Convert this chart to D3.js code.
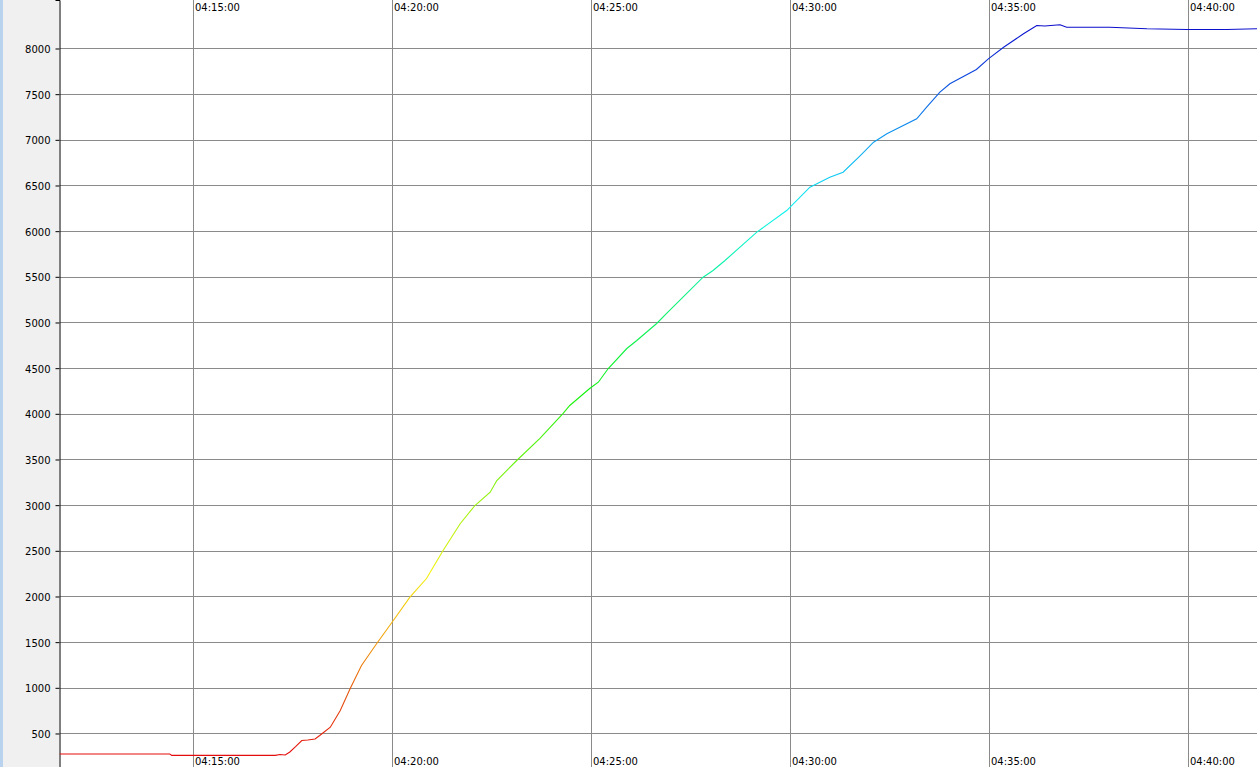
<!DOCTYPE html>
<html>
<head>
<meta charset="utf-8">
<script src="https://cdn.jsdelivr.net/npm/d3@7"></script>
<style>
  html, body { margin: 0; padding: 0; background: #ffffff; overflow: hidden; }
  svg { display: block; }
  text { font-family: "DejaVu Sans", Verdana, sans-serif; font-size: 10px; fill: #000; }
</style>
</head>
<body>
<svg id="chart" width="1257" height="767"></svg>
<script>
// ---- Data ----
const times = [
  "04:11:39","04:14:25","04:14:28","04:17:04","04:17:11","04:17:19","04:17:26","04:17:35",
  "04:17:44","04:17:53","04:18:04","04:18:11","04:18:27","04:18:42","04:18:57","04:19:14",
  "04:19:37","04:20:02","04:20:27","04:20:52","04:21:17","04:21:43","04:22:05","04:22:28",
  "04:22:38","04:23:08","04:23:43","04:24:18","04:24:28","04:24:58","04:25:11","04:25:26",
  "04:25:54","04:26:09","04:26:39","04:26:54","04:27:24","04:27:49","04:28:04","04:28:22",
  "04:29:10","04:29:55","04:30:30","04:31:00","04:31:20","04:31:46","04:32:06","04:32:26",
  "04:33:11","04:33:26","04:33:46","04:34:01","04:34:41","04:34:59","04:35:22","04:35:52",
  "04:36:12","04:36:24","04:36:47","04:36:57","04:38:02","04:38:58","04:39:58","04:40:58",
  "04:41:44"
];
const values = [
  275, 275, 260, 260, 270, 265, 297, 358,
  423, 429, 440, 478, 569, 752, 993, 1244,
  1485, 1737, 1992, 2197, 2504, 2799, 2996, 3142,
  3270, 3489, 3730, 4004, 4091, 4277, 4346, 4496,
  4715, 4803, 4989, 5099, 5317, 5496, 5569, 5679,
  5989, 6226, 6481, 6591, 6646, 6828, 6974, 7066,
  7230, 7357, 7522, 7614, 7770, 7887, 8014, 8161,
  8252, 8246, 8260, 8233, 8233, 8216, 8208, 8208,
  8216
];
const xTickLabels = ["04:15:00","04:20:00","04:25:00","04:30:00","04:35:00","04:40:00"];
const yTickValues = [500,1000,1500,2000,2500,3000,3500,4000,4500,5000,5500,6000,6500,7000,7500,8000];
const xDomain = ["04:11:39.5","04:41:44"];
const yDomain = [133, 8531];
const colorDomain = [260, 8260];

// ---- Setup ----
const W = 1257, H = 767;
const left = 60;
const parse = d3.timeParse("%H:%M:%S");
const parseFrac = s => { const [h,m,sec] = s.split(":"); const d = parse(h+":"+m+":00"); return new Date(d.getTime() + parseFloat(sec)*1000); };

const data = times.map((t,i) => ({t: parse(t), v: values[i]}));

const x = d3.scaleTime().domain(xDomain.map(parseFrac)).range([left, W]);
const y = d3.scaleLinear().domain(yDomain).range([H, 0]);

const svg = d3.select("#chart");

// left panel
svg.append("rect").attr("x",0).attr("y",0).attr("width",left-1).attr("height",H).attr("fill","#f0f0f0");
svg.append("rect").attr("x",0).attr("y",0).attr("width",3).attr("height",H).attr("fill","#b9d3ee");

// gradient (value based, red -> blue)
const defs = svg.append("defs");
const grad = defs.append("linearGradient").attr("id","lineGrad")
  .attr("gradientUnits","userSpaceOnUse")
  .attr("x1",0).attr("x2",0)
  .attr("y1", y(colorDomain[0])).attr("y2", y(colorDomain[1]));
d3.range(0, 13).forEach(i => {
  const f = i/12;
  const light = f < 0.85 ? 0.5 - 0.03*(1 - f/0.85)*(f < 0.15 ? 1 : 0) : 0.5 - 0.08*((f-0.85)/0.15);
  grad.append("stop").attr("offset", f)
    .attr("stop-color", d3.hsl(240*f, 0.9, light).formatHex());
});

// grid
const xTicks = xTickLabels.map(parse);
const gGrid = svg.append("g");
gGrid.selectAll("line.v").data(xTicks).join("line")
  .attr("x1", d => Math.round(x(d))+0.5).attr("x2", d => Math.round(x(d))+0.5)
  .attr("y1", 0).attr("y2", H)
  .attr("stroke", "#8a8a8a").attr("stroke-width", 1);
gGrid.selectAll("line.h").data(yTickValues).join("line")
  .attr("x1", left).attr("x2", W)
  .attr("y1", d => Math.round(y(d))+0.5).attr("y2", d => Math.round(y(d))+0.5)
  .attr("stroke", "#8a8a8a").attr("stroke-width", 1);

// y axis
const yAxis = d3.axisLeft(y).tickValues(yTickValues).tickSize(4).tickPadding(5).tickFormat(d3.format("d"));
const gy = svg.append("g").attr("transform", `translate(${left-0.5},0)`).call(yAxis);
gy.select(".domain").attr("stroke","#000");
gy.selectAll(".tick line").attr("stroke","#000");
gy.selectAll(".tick text").attr("font-family","DejaVu Sans").attr("font-size","10px").attr("dy","0.4em");

// x labels top & bottom
const fmt = d3.timeFormat("%H:%M:%S");
svg.append("g").selectAll("text").data(xTicks).join("text")
  .attr("x", d => Math.round(x(d)) + 2).attr("y", 11)
  .text(d => fmt(d));
svg.append("g").selectAll("text").data(xTicks).join("text")
  .attr("x", d => Math.round(x(d)) + 2).attr("y", 765)
  .text(d => fmt(d));

// line
const line = d3.line().x(d => x(d.t)).y(d => y(d.v));
svg.append("path").datum(data)
  .attr("d", line)
  .attr("fill","none")
  .attr("stroke","url(#lineGrad)")
  .attr("stroke-width", 1.1);
</script>
</body>
</html>
